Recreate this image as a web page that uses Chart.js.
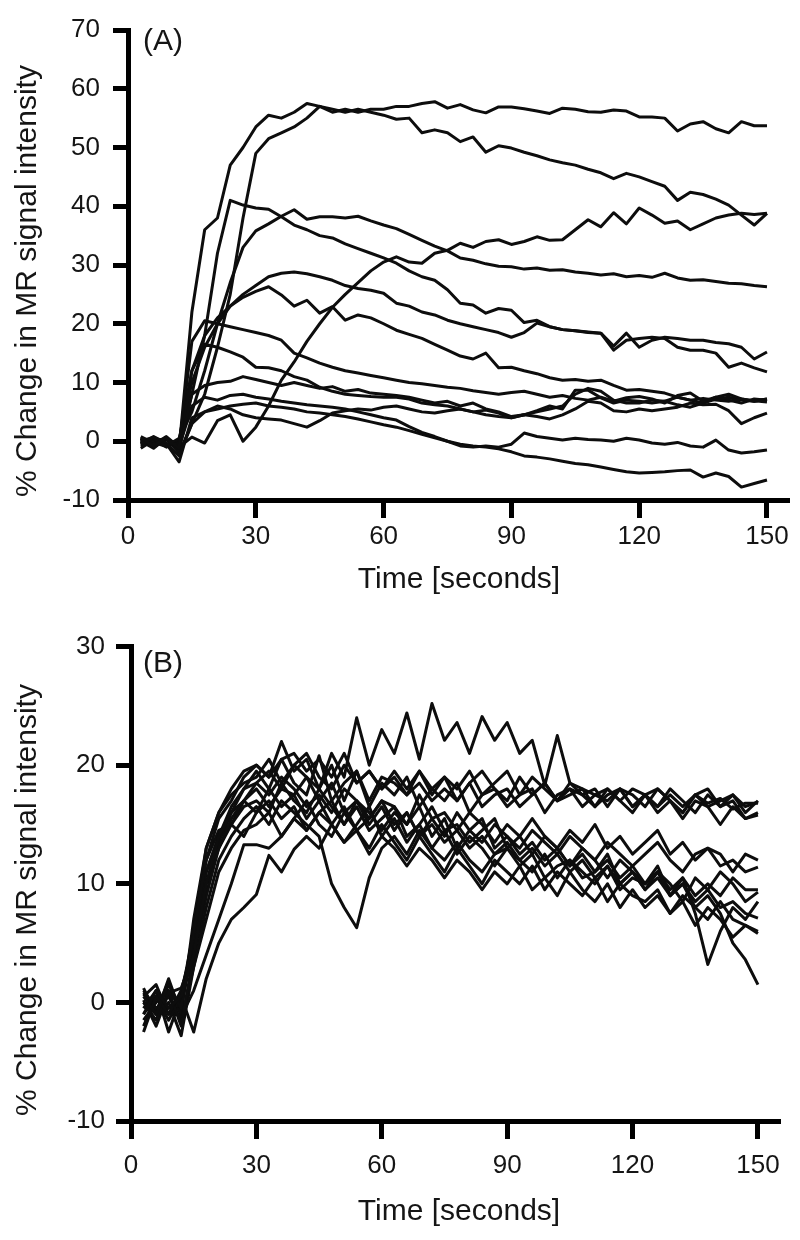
<!DOCTYPE html>
<html>
<head>
<meta charset="utf-8">
<title>% Change in MR signal intensity</title>
<script src="https://cdn.jsdelivr.net/npm/chart.js@4.4.1/dist/chart.umd.min.js"></script>
<style>
  html, body { margin: 0; padding: 0; background: #fff; }
  #wrap { position: relative; width: 800px; height: 1240px; }
  #wrap canvas { position: absolute; left: 0; }
  #chartA { top: 0; }
  #chartB { top: 620px; }
</style>
</head>
<body>
<div id="wrap">
  <canvas id="chartA" width="800" height="620"></canvas>
  <canvas id="chartB" width="800" height="620"></canvas>
</div>
<script>
// time points (seconds), shared by both panels
const timeSec = [3,6,9,12,15,18,21,24,27,30,33,36,39,42,45,48,51,54,57,60,63,66,69,72,75,78,81,84,87,90,93,96,99,102,105,108,111,114,117,120,123,126,129,132,135,138,141,144,147,150];

const xTicks = [0, 30, 60, 90, 120, 150];
const yTicksA = [-10, 0, 10, 20, 30, 40, 50, 60, 70];
const yTicksB = [-10, 0, 10, 20, 30];

// panel A curves (% change)
const a1 = [0.5,-0.8,0.6,-1.2,22,36,38,47,50,53.5, 55.5,55,56,57.5,57,56,56.5,56,56.5,56.5, 57,57,57.5,57.8,56.7,57.3,56.4,55.9,56.9,56.9, 56.6,56.2,55.8,56.7,56.5,56.1,56,56.4,56.2,55.2, 55.2,55,52.8,54,54.4,53.2,52.5,54.4,53.7,53.7];
const a2 = [-0.5,0.8,-0.3,-2.5,3,8,16,25,38,49, 51.5,52.5,53.5,55,57,56.5,56,56.5,56,55.5, 54.8,55,52.5,53,52.5,51,51.8,49.2,50.3,49.9, 49.2,48.6,47.9,47.4,47,46.3,45.7,44.7,45.6,45, 44.2,43.4,41,42.4,42,41.2,40.2,38.5,36.8,38.8];
const a3 = [0.2,-0.6,0.4,-1.5,8,18,32,41,40.2,39.7, 39.5,38.2,36.8,36,35,34.6,33.6,32.8,32,31.2, 30.3,29,28,27.4,25.8,23.5,23.2,21.8,22.6,22.3, 20.2,20.6,19.5,19,18.8,18.6,18.4,16.2,18.4,16, 17.2,17.7,17.5,17.2,17.2,16.8,16.6,16,14,15.2];
const a4 = [-0.4,0.6,-0.8,0.5,5,12,20,27,33,35.8, 37,38.3,39.4,37.8,38.2,38.2,38,38.3,37.5,36.8, 36.2,35.2,34.2,33.2,32.4,31.2,30.8,30.2,29.8,29.7, 29.3,29.5,29.1,29.2,28.8,28.6,28.3,28.5,28,28.2, 27.9,28.6,27.8,27.4,27.5,27.2,26.9,26.8,26.5,26.3];
const a5 = [0.3,-0.5,0.8,-1,0.7,-0.3,3.5,4.5,0,2.4, 6,10.4,13.5,17,20,22.8,25,27,29,30.5, 31.4,30.5,30.3,32,32.5,33.7,33,34,34.3,33.5, 34,34.8,34.2,34.3,36,37.7,36.5,38.9,37,39.7, 38.5,37.1,37.5,36,37,38,38.5,38.8,38.6,38.8];
const a6 = [0.6,-0.2,-0.9,0.3,10,16,20,23,25,26.5, 28,28.6,28.8,28.5,28,27.4,26.5,26,25.7,25.2, 23.5,23,22,21.5,20.6,20,19.5,19,18.5,17.7, 18.5,20.1,19.5,19,18.8,18.5,18.4,15.5,17.2,17.5, 17.7,17.5,16,15.5,15.5,15,12.6,13.3,12.5,11.8];
const a7 = [-0.8,0.4,0.2,-0.5,12,18,21,23,24.5,25.5, 26.3,24.9,23,24,21.8,22.9,20.6,21.5,21,20, 18.9,18.2,17.5,16.5,15.5,14.5,14,15,12.5,12.6, 12,11.5,10.8,10.4,10.5,10.2,10.4,9.5,8.7,8.8, 8.5,8.2,7.5,7,7.3,7,6.8,7.2,6.9,6.7];
const a8 = [0.5,-1,0.3,-0.8,17,20.5,20,19.5,19,18.5, 18,17.2,15,14.2,13.3,12.6,12,11.6,11.2,10.8, 10.4,10,9.8,9.5,9.2,9,8.6,8.3,8,8.3, 8.5,8,7.5,7.8,7.3,7,7.5,6.8,7.4,7.6, 7.2,6.5,7.8,8.2,6.8,7.5,8,7.2,6.8,7.2];
const a9 = [0,0.7,-0.5,0.2,12,16.5,16,15.2,14.3,12.6, 12.5,12,11,10.4,9.2,8.5,8,7.8,7.6,7.5, 7.5,7.2,6.5,6.2,6,5.5,5,5.3,4.8,4, 4.5,4.2,3.8,4.5,5.5,6.8,6.5,5.2,5,5.5, 5.2,5.5,5.8,6.5,6.2,6.3,5.2,3,4,4.8];
const a10 = [-0.3,0.5,-1,0,8,9.5,10,10.2,11,10.5, 10,9.5,10,9.5,9,9.3,8.5,8.8,8.2,8, 7.8,7.5,7,6.5,6.8,6,6.5,5.5,5,4.2, 4.5,5,5.5,6,8,9,8.5,7,6.5,6.5, 7,6.8,7.5,7,6.5,7.2,7.5,7,6.8,7.2];
const a11 = [0.8,-0.3,0.5,-1,6,7.5,7,7.8,8,7.5, 7.2,6.8,6.5,6.2,6,5.8,5.5,5,4.5,4, 3.6,2.5,1.5,0.8,0,-0.8,-1,-0.8,-1,-0.5, 1.4,0.8,0.5,0.2,0.5,0.3,0.2,0,0.5,0.2, -0.3,-0.5,-0.2,-0.8,-1,0.2,-1.5,-2,-1.8,-1.5];
const a12 = [-1.2,0.2,-0.4,-3.5,4,5,5.5,6,6.3,6.5, 6,5.8,5.5,5,4.8,4.5,4.2,3.8,3.3,2.8, 2.4,1.8,1.2,0.6,0,-0.5,-0.8,-1,-1.3,-1.8, -2.5,-2.7,-3,-3.4,-3.8,-4,-4.4,-4.8,-5.2,-5.4, -5.3,-5.2,-5,-4.9,-6.1,-5.4,-6,-7.8,-7.2,-6.6];
const a13 = [0,-1.2,0.6,-2,3,5,6,5.5,4.5,4, 3.8,3.6,3,2.4,3.5,4.8,5.2,5.5,5.3,5.8, 6,5.5,5,4.8,5.2,5.5,5,4.5,4.2,4, 4.5,5.2,6,5.5,8.7,8.7,7.4,6.5,7,6.8, 6.5,6.8,6.2,5.8,6.5,7.5,7,6.5,7.2,7];

// panel B curves (% change)
const b1 = [-1,1,-0.5,0.5,4,10,14,16,18,18.5, 19.5,18,20,19,18,21,19,24,20,23, 21,24.4,20.5,25.2,22.1,23.6,21,24.1,22.1,23.6, 21,22.1,18.3,22.5,18.5,18,17.5,18,17,18, 17.5,16.5,17.5,16.5,17.5,16.8,17.2,16.3,16.8,16.8];
const b2 = [0.5,-1,1.5,-0.5,6,12,15.5,17,19,20, 19,22,19.5,20.5,18,20,17,19.5,16.5,18.5, 17.5,19,16.5,18,17,18.5,16,17.5,18,16.5, 17.5,18,16,17.5,18,16.5,17.5,17,18,16.5, 17.5,18,17,16,17.5,16.5,17,17.5,16,17];
const b3 = [-2.5,0.5,-1,1,5,11,14,16.5,18,19.5, 18,20.5,18.5,17.5,20.8,17,18.5,19.5,17,19, 18.5,17.5,19.5,18,19,17,18.5,19.5,18,17, 19,17.5,18.5,17,18,17.5,16.5,18,17,16, 17.5,16,17,15.5,17,16.5,15,16.5,15.5,15.8];
const b4 = [0,-1.5,1,-2,4,9,13,15.5,17,16, 18,16.5,17.5,15.5,17,15,16.5,14.5,15.5,17, 15,16,14,15.5,14,16,14.5,13.5,15,14, 13,14.5,13.5,12.5,14,13,12,13.5,12.5,11.5, 12.5,13.5,12,11,12.5,13,11.5,12,11,11.4];
const b5 = [1,-0.5,0.5,-1.5,3,8,12,14,15.5,16.5, 15,17,16,15,14,10,8,6.3,10.5,13, 14,12.5,14.5,13,12,13.5,12,11,12.5,13, 11.5,12.5,10.5,11.5,12,10.5,11,12.5,10,11, 9.5,11,10,8.5,10.5,9.5,11,10,8.5,9.3];
const b6 = [-1,0.5,-1.5,0.5,-2.5,2,5,7,8,9.1, 12.4,11,12.9,14,13,15,13.5,14.5,12.5,14, 13,11.5,13,12,10.5,12,11,9.5,11,10, 11.5,9.5,10.5,9,11,9.5,8.5,10,8,9.5, 8,9,7.5,8.5,6.5,8,7,5.5,6.5,5.8];
const b7 = [0.5,1.5,-1,0,6,12,14.5,15,16.5,17, 16,18.5,17,16,18,16.5,15,17,16,14.5, 16,15,16.5,14,15.5,13,14.5,15.5,13,14, 12.5,13.5,12,13,11.5,12.5,11,12,10.5,11.5, 10,11,9,10,8,9,7.5,5,3.6,1.5];
const b8 = [-1.5,0,1,-0.5,5,10,13,15,14,16, 17,15.5,16.5,14.5,16,17,15,16.5,14.5,15.5, 16.5,14,15,16.5,14.5,15,13.5,14.5,15.5,13, 14,12.5,14,13,11.5,13,12,10.5,12,11, 10,11.5,9,10.5,7.5,3.2,6,8,7,8.5];
const b9 = [0.2,-2,0.8,1.2,4,9,13.5,16,17,18, 16.5,18,17.5,19,17,18.5,16,17,15,16.5, 14.5,16,14,15,13.5,14.5,13,14,12.5,13.5, 12,13,11.5,12.5,11,12,10.5,11.5,10,11, 9.5,10.5,9,10,8.5,9.5,8,8.5,7.5,7.1];
const b10 = [-0.5,1,-2.5,0.5,6,13,16,17.5,18.5,19, 20.5,18.5,20,21,19,18,20,18.5,19.5,18, 19.5,18,19.5,17.5,19,18,19.5,17.5,18.5,19.5, 17.5,19,18,17,18.5,17.5,18,16.5,18,17.5, 16.5,18,17,16,17.5,18,16.5,17,15.5,16];
const b11 = [1.2,-1,0,-2.8,3,7,11,13,14.5,15, 16,14,15.5,17,15,14,16,14.5,13,15, 13.5,12,14,12.5,11,13,11.5,10,12,11, 10,11.5,9.5,11,10,9,10.5,8.5,10,9, 8.5,9.5,7.5,9,8,7,8.5,7,6.5,6];
const b12 = [-2,0.5,-1,0.8,5,11,14,15,17,18.5, 17.5,19,18,16.5,17.5,16,18,17,15.5,17, 16.5,15,17.5,15.5,16,14.5,16,15,13.5,15, 14,15.5,14,13,14.5,13.5,15,13,14,12.5, 13.5,14.5,12.5,13.5,12,13,12.5,11,12.5,12];
const b13 = [0,-1,2,-1,7,13,16,18,19.5,20, 19,20.5,21,19.5,20.5,19,21,18.5,19.5,18, 19,17.5,18.5,17,18,17,18.5,16.5,17.5,18, 16.5,17.5,18.5,17,17.5,18,16.5,17.5,18,16.5, 17.5,16.5,18,17,16,17.5,16.5,17.5,16.5,16.9];
const b14 = [0.8,-0.8,1.8,-1.2,1,4,7,10,13.3,13.3, 13,14,15.5,14.5,16,15,13.5,15,16.5,14, 15.5,13.5,15,13,14.5,12.5,14,13,11.5,13, 12,11,12.5,10.5,12,11,10,11.5,9.5,10.5, 10,11,9.5,10.5,9,10,9,10.5,9.5,9.5];

const seriesA = [a1, a2, a3, a4, a5, a6, a7, a8, a9, a10, a11, a12, a13];
const seriesB = [b1, b2, b3, b4, b5, b6, b7, b8, b9, b10, b11, b12, b13, b14];

const FONT = '"Liberation Sans", Arial, Helvetica, sans-serif';
const INK = '#151515';

// draws the panel letter and the two axis titles
const panelText = {
  id: 'panelText',
  afterDraw(chart, args, opts) {
    const ctx = chart.ctx;
    ctx.save();
    ctx.fillStyle = INK;
    ctx.font = '30px ' + FONT;
    ctx.textBaseline = 'middle';
    ctx.textAlign = 'left';
    ctx.fillText(opts.label, opts.labelPos[0], opts.labelPos[1]);
    ctx.textAlign = 'center';
    ctx.fillText('Time [seconds]', opts.xTitlePos[0], opts.xTitlePos[1]);
    ctx.translate(opts.yTitlePos[0], opts.yTitlePos[1]);
    ctx.rotate(-Math.PI / 2);
    ctx.fillText('% Change in MR signal intensity', 0, 0);
    ctx.restore();
  }
};

function makeChart(id, series, yTicks, lay) {
  const datasets = series.map((s, k) => ({
    label: 'curve ' + (k + 1),
    data: timeSec.map((t, i) => ({ x: t, y: s[i] })),
    borderColor: '#0d0d0d',
    borderWidth: 3,
    pointRadius: 0,
    tension: 0,
    fill: false,
    borderJoinStyle: 'round'
  }));

  const axisStyle = {
    border: { display: true, color: '#000', width: 5 },
    grid: { drawOnChartArea: false, drawTicks: true, color: '#000', lineWidth: 5, tickColor: '#000', tickWidth: 5 }
  };

  return new Chart(document.getElementById(id), {
    type: 'line',
    data: { datasets },
    plugins: [panelText],
    options: {
      responsive: false,
      animation: false,
      devicePixelRatio: 1,
      layout: { padding: { left: 0, top: lay.top, right: lay.right, bottom: 0 } },
      plugins: {
        legend: { display: false },
        tooltip: { enabled: false },
        panelText: lay.text
      },
      scales: {
        x: {
          type: 'linear',
          min: 0,
          max: lay.xMax,
          border: axisStyle.border,
          grid: Object.assign({}, axisStyle.grid, { tickLength: 18 }),
          afterBuildTicks: (ax) => { ax.ticks = xTicks.map(v => ({ value: v })); },
          afterFit: (ax) => { ax.height = lay.xHeight; },
          ticks: { color: INK, font: { family: FONT, size: 26 }, padding: lay.xPad, maxRotation: 0, autoSkip: false }
        },
        y: {
          min: yTicks[0],
          max: yTicks[yTicks.length - 1],
          border: axisStyle.border,
          grid: Object.assign({}, axisStyle.grid, { tickLength: 15 }),
          afterBuildTicks: (ax) => { ax.ticks = yTicks.map(v => ({ value: v })); },
          afterFit: (ax) => { ax.width = lay.yWidth; },
          ticks: { color: INK, font: { family: FONT, size: 26 }, padding: lay.yPad, autoSkip: false }
        }
      }
    }
  });
}

makeChart('chartA', seriesA, yTicksA, {
  top: 30, right: 13, xMax: 154.7, xHeight: 120, yWidth: 128, xPad: 3, yPad: 13,
  text: { label: '(A)', labelPos: [143, 42], xTitlePos: [459, 580], yTitlePos: [28, 281] }
});

makeChart('chartB', seriesB, yTicksB, {
  top: 24, right: 22, xMax: 154.8, xHeight: 119, yWidth: 131, xPad: 11, yPad: 11,
  text: { label: '(B)', labelPos: [143, 44], xTitlePos: [459, 592], yTitlePos: [28, 280] }
});
</script>
</body>
</html>
